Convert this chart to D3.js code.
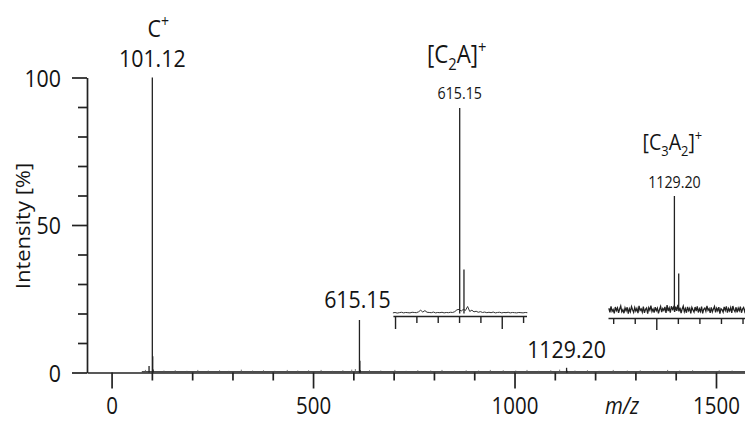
<!DOCTYPE html>
<html><head><meta charset="utf-8">
<script src="https://cdn.jsdelivr.net/npm/d3@7"></script>
<style>
html,body{margin:0;padding:0;background:#fff;}
svg{display:block;}
text{font-family:"Open Sans","Noto Sans",sans-serif;fill:#141414;}
</style></head><body>
<svg id="chart" width="745" height="421"></svg>
<script>
// ---- main spectrum: labelled peaks and isotopes (m/z, relative intensity %)
const peakMz  = [93.0, 101.12, 102.1, 103.1, 615.15, 616.15, 617.15, 1129.20, 1130.2];
const peakInt = [2.2,  100,    5.5,   1.0,   17.8,   4.0,    0.8,    1.6,     0.6];
// low-level background signal along the baseline
const grassMz  = [84, 130, 158, 187, 214, 240, 268, 291, 322, 350, 377, 405, 436, 462, 489, 520, 548, 574, 596, 605,
                  640, 668, 703, 731, 760, 792, 820, 851, 880, 911, 940, 972, 1003, 1031, 1060, 1090, 1112, 1150,
                  1181, 1210, 1245, 1280, 1312, 1345, 1380, 1410, 1442, 1475, 1508, 1540];
const grassInt = [0.6, 0.4, 0.5, 0.3, 0.6, 0.4, 0.5, 0.3, 0.7, 0.4, 0.5, 0.3, 0.6, 0.4, 0.5, 0.6, 0.3, 0.5, 0.7, 0.9,
                  0.5, 0.4, 0.6, 0.3, 0.5, 0.4, 0.6, 0.3, 0.5, 0.4, 0.6, 0.5, 0.4, 0.6, 0.3, 0.5, 0.7, 0.4,
                  0.5, 0.3, 0.6, 0.4, 0.5, 0.3, 0.6, 0.4, 0.5, 0.3, 0.5, 0.4];
const baselineMz = [75, 1575];
const xMajorTicks = [0, 500, 1000, 1500];
const xMinorTicks = [100, 200, 300, 400, 600, 700, 800, 900, 1100, 1200, 1300, 1400];
const yMajorTicks = [0, 50, 100];
const yMinorTicks = [10, 20, 30, 40, 60, 70, 80, 90];

// ---- inset [C2A]+ : zoom around m/z 615
const c2aStart = 599.5, c2aStep = 0.5;
const c2aBase = [0.3,0.5,0.2,0.4,0.6,0.3,0.5,0.4,0.3,0.6,0.5,0.4,0.8,1.6,0.7,1.4,0.6,0.5,0.4,0.7,0.3,0.5,0.4,0.6,0.3,0.5,0.4,0.6,0.5,0.9,1.8,
                 2.0,1.2,2.0,1.5,3.4,1.0,1.6,0.8,1.1,0.6,0.9,0.5,0.7,0.4,0.6,0.4,0.7,0.3,0.5,0.6,0.3,0.5,0.4,0.6,0.3,0.5,0.4,0.3,0.5,0.4,0.3,0.5,0.4];
const c2aPeakMz  = [615.15, 616.15];
const c2aPeakInt = [100, 21.4];
const c2aMajor = [600, 625];
const c2aMinor = [605, 610, 615, 620, 630];

// ---- inset [C3A2]+ : zoom around m/z 1129
const c3a2Start = 1114, c3a2Step = 0.25;
const c3a2Base = [1.5,-2.0,3.2,-1.1,0.4,-3.0,2.6,-0.5,1.8,-2.4,0.9,3.5,-1.6,0.2,-2.8,1.9,
                  -0.7,2.4,-3.2,1.1,-1.4,3.0,0.3,-2.1,2.2,-0.9,1.4,-2.7,3.6,-0.4,1.0,-1.9,
                  2.9,-2.5,0.6,1.7,-3.1,2.0,-0.2,3.8,-1.3,0.8,-2.2,2.5,-0.6,1.6,-2.9,0.4,
                  3.1,-1.8,1.2,-0.3,2.7,-2.6,4.2,-1.0,1.9,-2.3,3.3,0.5,2.4,-1.7,3.0,-0.8,
                  4.5,-1.2,2.1,-2.8,0.9,3.4,-1.5,1.3,-2.4,2.8,-0.5,1.5,-3.0,2.2,0.1,-1.8,
                  2.6,-0.9,3.1,-2.2,1.0,-1.4,2.9,-2.9,0.7,1.8,-1.1,3.7,-0.3,1.2,-2.5,2.3,
                  -1.6,0.8,3.0,-2.0,1.6,-0.7,2.5,-3.1,1.1,0.3,-1.9,2.7,-0.4,3.2,-2.3,1.4,
                  -0.8,2.1,-2.6,3.5,0.2,-1.5,2.4,-2.0,1.7,-0.6,3.0,-2.4,0.9,2.2,-1.3,1.8,-0.5];
const c3a2PeakMz  = [1129.20, 1130.2];
const c3a2PeakInt = [100, 32];
const c3a2Major = [1125];
const c3a2Minor = [1115, 1120, 1130, 1135, 1140, 1145];

const INK = "#222";
const SX = 0.89;   // horizontal squeeze of the lettering

const svg = d3.select("#chart");

// ---- scales
const x = d3.scaleLinear().domain([-61, 1572]).range([87, 745]);
const y = d3.scaleLinear().domain([0, 100]).range([372.5, 77.5]);

const xi1 = d3.scaleLinear().domain([599.5, 630.8]).range([392.9, 526.5]);
const yi1 = d3.scaleLinear().domain([0, 100]).range([313.5, 108]);
const xi2 = d3.scaleLinear().domain([1113.8, 1146.2]).range([608, 747.7]);
const yi2 = d3.scaleLinear().domain([0, 100]).range([310, 196]);

// text helper: parts = [{t, sub, sup}], squeezed horizontally
function label(x0, y0, parts, size, anchor) {
  const t = svg.append("text")
    .attr("transform", `translate(${x0},${y0}) scale(${SX},1)`)
    .attr("text-anchor", anchor || "middle")
    .style("font-size", size + "px");
  let shift = 0;
  parts.forEach(p => {
    const target = p.sub ? size * 0.28 : p.sup ? -size * 0.42 : 0;
    t.append("tspan")
      .attr("dy", target - shift)
      .style("font-size", (p.sub || p.sup ? size * 0.66 : size) + "px")
      .text(p.t);
    shift = target;
  });
  return t;
}

function styleAxis(g, w) {
  g.selectAll("path.domain").attr("stroke", INK).attr("stroke-width", w);
  g.selectAll(".tick line").attr("stroke", INK).attr("stroke-width", w);
}

// ---- main axes
const gx = svg.append("g").attr("transform", `translate(0,${y(0)})`);
gx.call(d3.axisBottom(x).tickValues(xMajorTicks).tickSize(16).tickSizeOuter(0).tickFormat(d3.format("d")));
styleAxis(gx, 1.7);
gx.selectAll(".tick text")
  .attr("fill", "#141414").attr("y", 0).attr("dy", 0)
  .attr("transform", `translate(0,41.5) scale(${SX},1)`)
  .style("font-family", '"Open Sans","Noto Sans",sans-serif').style("font-size", "23px");
const gxm = svg.append("g").attr("transform", `translate(0,${y(0)})`);
gxm.call(d3.axisBottom(x).tickValues(xMinorTicks).tickSize(8).tickSizeOuter(0).tickFormat(""));
gxm.select("path.domain").remove();
styleAxis(gxm, 1.7);

const gy = svg.append("g").attr("transform", `translate(${x.range()[0]},0)`);
gy.call(d3.axisLeft(y).tickValues(yMajorTicks).tickSize(15).tickSizeOuter(0).tickFormat(d3.format("d")));
styleAxis(gy, 1.7);
gy.selectAll(".tick text")
  .attr("fill", "#141414").attr("x", 0).attr("dy", 0)
  .attr("transform", `translate(-26,8.5) scale(${SX},1)`)
  .style("font-family", '"Open Sans","Noto Sans",sans-serif').style("font-size", "24px");
const gym = svg.append("g").attr("transform", `translate(${x.range()[0]},0)`);
gym.call(d3.axisLeft(y).tickValues(yMinorTicks).tickSize(9).tickSizeOuter(0).tickFormat(""));
gym.select("path.domain").remove();
styleAxis(gym, 1.7);

// axis titles
svg.append("text")
  .attr("transform", `translate(30,226) rotate(-90) scale(1,${SX})`)
  .attr("text-anchor", "middle").style("font-size", "22px").text("Intensity [%]");
svg.append("text")
  .attr("transform", `translate(622,414) scale(${SX},1)`)
  .attr("text-anchor", "middle").style("font-size", "23px").style("font-style", "italic").text("m/z");

// ---- main spectrum
svg.append("line")
  .attr("x1", x(baselineMz[0])).attr("x2", x(baselineMz[1]))
  .attr("y1", y(0) - 0.8).attr("y2", y(0) - 0.8)
  .attr("stroke", INK).attr("stroke-width", 1);
svg.append("g").selectAll("line").data(d3.zip(grassMz, grassInt)).join("line")
  .attr("x1", d => x(d[0])).attr("x2", d => x(d[0]))
  .attr("y1", y(0)).attr("y2", d => y(d[1]) - 0.8)
  .attr("stroke", "#555").attr("stroke-width", 0.8);
svg.append("g").selectAll("line").data(d3.zip(peakMz, peakInt)).join("line")
  .attr("x1", d => x(d[0])).attr("x2", d => x(d[0]))
  .attr("y1", y(0)).attr("y2", d => y(d[1]))
  .attr("stroke", INK).attr("stroke-width", 1.3);

// peak annotations
label(x(101.12) + 6, 37, [{t: "C"}, {t: "+", sup: true}], 24);
label(x(101.12), 67, [{t: "101.12"}], 24);
label(x(615.15) - 2, 308, [{t: "615.15"}], 24);
label(x(1129.20), 358, [{t: "1129.20"}], 24);

// ---- inset 1
const line1 = d3.line().x((d, i) => xi1(c2aStart + i * c2aStep)).y(d => yi1(d));
svg.append("path").datum(c2aBase).attr("d", line1)
  .attr("fill", "none").attr("stroke", "#333").attr("stroke-width", 1);
svg.append("g").selectAll("line").data(d3.zip(c2aPeakMz, c2aPeakInt)).join("line")
  .attr("x1", d => xi1(d[0])).attr("x2", d => xi1(d[0]))
  .attr("y1", yi1(0)).attr("y2", d => yi1(d[1]))
  .attr("stroke", INK).attr("stroke-width", 1.3);
const gi1 = svg.append("g").attr("transform", "translate(0,316)");
gi1.call(d3.axisBottom(xi1).tickValues(c2aMajor).tickSize(13).tickSizeOuter(0).tickFormat(""));
styleAxis(gi1, 1.4);
const gi1m = svg.append("g").attr("transform", "translate(0,316)");
gi1m.call(d3.axisBottom(xi1).tickValues(c2aMinor).tickSize(7).tickSizeOuter(0).tickFormat(""));
gi1m.select("path.domain").remove();
styleAxis(gi1m, 1.4);
label(xi1(615.15), 99, [{t: "615.15"}], 16);
label(xi1(615.15) - 3, 63, [{t: "[C"}, {t: "2", sub: true}, {t: "A]"}, {t: "+", sup: true}], 25);

// ---- inset 2
const line2 = d3.line().x((d, i) => xi2(c3a2Start + i * c3a2Step)).y(d => yi2(d));
svg.append("path").datum(c3a2Base).attr("d", line2)
  .attr("fill", "none").attr("stroke", "#222").attr("stroke-width", 1.3);
svg.append("g").selectAll("line").data(d3.zip(c3a2PeakMz, c3a2PeakInt)).join("line")
  .attr("x1", d => xi2(d[0])).attr("x2", d => xi2(d[0]))
  .attr("y1", yi2(0)).attr("y2", d => yi2(d[1]))
  .attr("stroke", INK).attr("stroke-width", 1.3);
const gi2 = svg.append("g").attr("transform", "translate(0,318)");
gi2.call(d3.axisBottom(xi2).tickValues(c3a2Major).tickSize(12).tickSizeOuter(0).tickFormat(""));
styleAxis(gi2, 1.4);
const gi2m = svg.append("g").attr("transform", "translate(0,318)");
gi2m.call(d3.axisBottom(xi2).tickValues(c3a2Minor).tickSize(6).tickSizeOuter(0).tickFormat(""));
gi2m.select("path.domain").remove();
styleAxis(gi2m, 1.4);
label(xi2(1129.20), 188, [{t: "1129.20"}], 16);
label(xi2(1129.20) - 2, 150, [{t: "[C"}, {t: "3", sub: true}, {t: "A"}, {t: "2", sub: true}, {t: "]"}, {t: "+", sup: true}], 22);
</script>
</body></html>
